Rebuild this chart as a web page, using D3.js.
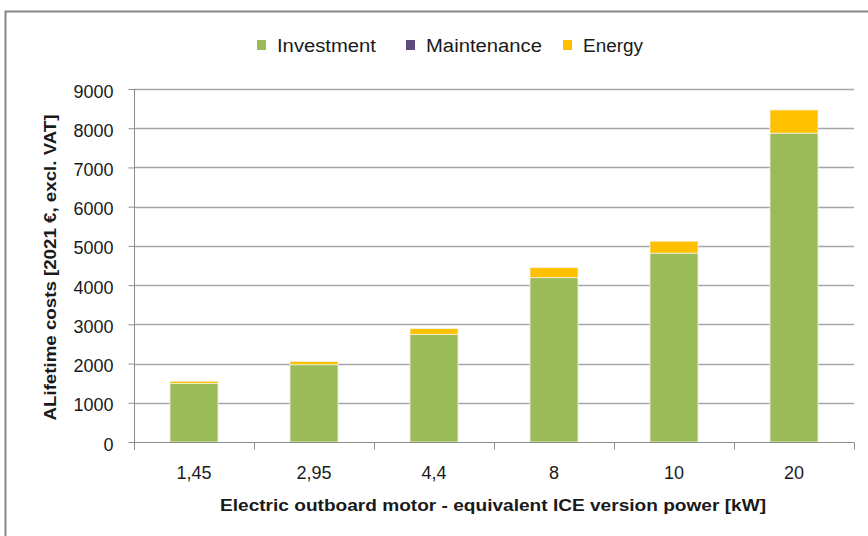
<!DOCTYPE html>
<html>
<head>
<meta charset="utf-8">
<script src="https://cdn.jsdelivr.net/npm/d3@7"></script>
<style>
  html, body { margin: 0; padding: 0; background: #fff; }
  svg { display: block; }
  text { font-family: "Liberation Sans", Arial, sans-serif; fill: #1a1a1a; }
</style>
</head>
<body>
<svg id="chart" width="868" height="536"></svg>
<script>
// Lifetime cost components per motor size (2021 €, excl. VAT)
const categories = ["1,45", "2,95", "4,4", "8", "10", "20"];
const investment = [1490, 1970, 2745, 4190, 4815, 7875];
const maintenance = [0, 0, 0, 0, 0, 0];
const energy = [60, 85, 145, 255, 305, 590];
const seriesNames = ["Investment", "Maintenance", "Energy"];
const seriesColors = ["#9bbb59", "#604a7b", "#ffc000"];
const yTicks = [0, 1000, 2000, 3000, 4000, 5000, 6000, 7000, 8000, 9000];

const svg = d3.select("#chart");

// outer chart frame
svg.append("rect")
  .attr("x", 5.5).attr("y", 11.5)
  .attr("width", 900).attr("height", 600)
  .attr("fill", "#fff")
  .attr("stroke", "#868686").attr("stroke-width", 2);

const plot = { left: 134, right: 854, top: 89, bottom: 442 };

const x = d3.scaleBand()
  .domain(categories)
  .range([plot.left, plot.right])
  .paddingInner(0.6).paddingOuter(0.3);
const xOuter = d3.scaleBand().domain(categories).range([plot.left, plot.right]);

const y = d3.scaleLinear().domain([0, 9000]).range([plot.bottom, plot.top]);

// horizontal gridlines
svg.append("g")
  .selectAll("line")
  .data(yTicks.filter(d => d > 0))
  .join("line")
  .attr("x1", plot.left).attr("x2", plot.right)
  .attr("y1", d => Math.round(y(d)) + 0.5).attr("y2", d => Math.round(y(d)) + 0.5)
  .attr("stroke", "#a6a6a6").attr("stroke-width", 1.5);

// stacked bars
const rows = categories.map((c, i) => ({
  cat: c, Investment: investment[i], Maintenance: maintenance[i], Energy: energy[i]
}));
const stack = d3.stack().keys(seriesNames)(rows);

svg.append("g")
  .selectAll("g")
  .data(stack)
  .join("g")
  .attr("fill", (d, i) => seriesColors[i])
  .selectAll("rect")
  .data(d => d.filter(p => p[1] - p[0] > 0))
  .join("rect")
  .attr("x", d => x(d.data.cat))
  .attr("width", x.bandwidth())
  .attr("y", d => y(d[1]))
  .attr("height", d => y(d[0]) - y(d[1]))
  .attr("stroke", "#eef3e2").attr("stroke-width", 0.8);

// y axis
const yAxis = d3.axisLeft(y).tickValues(yTicks).tickSize(6).tickPadding(15).tickFormat(d3.format("d"));
const gy = svg.append("g").attr("transform", `translate(${plot.left + 0.5},0)`).call(yAxis);
gy.select(".domain").attr("stroke", "#8c8c8c").attr("d", `M-0,${plot.top}V${plot.bottom + 8}`);
gy.selectAll(".tick line").attr("stroke", "#8c8c8c");
gy.selectAll(".tick text").attr("font-size", 18).attr("fill", "#1a1a1a").attr("dy", "0.45em")
  .attr("font-family", "Liberation Sans, Arial, sans-serif");

// x axis with ticks at category boundaries
const gx = svg.append("g").attr("transform", `translate(0,${plot.bottom + 0.5})`);
gx.append("line").attr("x1", plot.left).attr("x2", plot.right)
  .attr("stroke", "#8c8c8c");
const bounds = categories.map(c => xOuter(c)).concat([plot.right]);
gx.selectAll("line.tk").data(bounds).join("line").attr("class", "tk")
  .attr("x1", d => Math.round(d) + 0.5).attr("x2", d => Math.round(d) + 0.5)
  .attr("y1", 0).attr("y2", 7).attr("stroke", "#8c8c8c");
gx.selectAll("text").data(categories).join("text")
  .attr("x", d => x(d) + x.bandwidth() / 2)
  .attr("y", 36)
  .attr("text-anchor", "middle")
  .attr("font-size", 18)
  .text(d => d);

// axis titles
svg.append("text")
  .attr("transform", `translate(56,${(plot.top + plot.bottom) / 2 + 2}) rotate(-90)`)
  .attr("text-anchor", "middle")
  .attr("font-weight", "bold").attr("font-size", 16)
  .attr("textLength", 306).attr("lengthAdjust", "spacingAndGlyphs")
  .text("ALifetime costs [2021 €, excl. VAT]");

svg.append("text")
  .attr("x", 493).attr("y", 511)
  .attr("text-anchor", "middle")
  .attr("font-weight", "bold").attr("font-size", 17)
  .attr("textLength", 546).attr("lengthAdjust", "spacingAndGlyphs")
  .text("Electric outboard motor - equivalent ICE version power [kW]");

// legend
const legendX = [257, 406, 563];
const legendW = [99, 116, 60];
const lg = svg.append("g").selectAll("g").data(seriesNames).join("g")
  .attr("transform", (d, i) => `translate(${legendX[i]},0)`);
lg.append("rect").attr("x", 0).attr("y", 40).attr("width", 9).attr("height", 10)
  .attr("fill", (d, i) => seriesColors[i]);
lg.append("text").attr("x", 20).attr("y", 52)
  .attr("font-size", 18)
  .attr("textLength", (d, i) => legendW[i]).attr("lengthAdjust", "spacingAndGlyphs")
  .text(d => d);
</script>
</body>
</html>
